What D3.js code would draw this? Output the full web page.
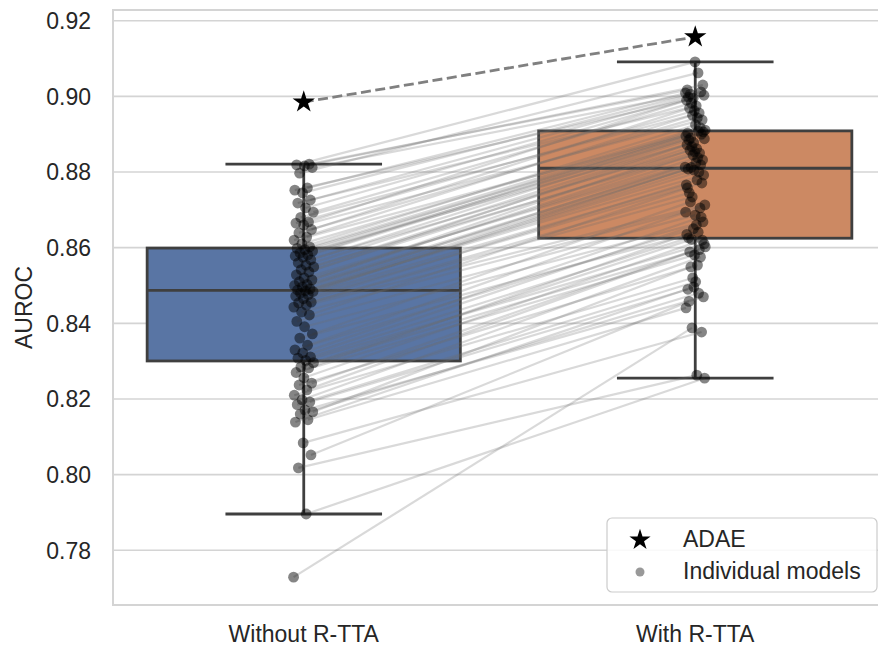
<!DOCTYPE html>
<html>
<head>
<meta charset="utf-8">
<script src="https://cdn.jsdelivr.net/npm/d3@7"></script>
<style>
  body { margin: 0; background: #fff; }
  text { font-family: "Liberation Sans", Arial, sans-serif; fill: #262626; }
</style>
</head>
<body>
<svg id="chart" width="878" height="648"></svg>
<script>
// categories on the x axis
var categories = ["Without R-TTA", "With R-TTA"];

// AUROC of each individual model, same model order in both arrays
var withoutRTTA = [
  0.7729, 0.7896, 0.8018, 0.8052, 0.8084, 0.8139, 0.8145, 0.8160, 0.8166, 0.8171,
  0.8185, 0.8192, 0.8198, 0.8210, 0.8224, 0.8237, 0.8242, 0.8256, 0.8270, 0.8282,
  0.8285, 0.8296, 0.8302, 0.8308, 0.8311, 0.8322, 0.8330, 0.8342, 0.8361, 0.8372,
  0.8391, 0.8405, 0.8422, 0.8430, 0.8443, 0.8448, 0.8454, 0.8456, 0.8465, 0.8472,
  0.8476, 0.8480, 0.8484, 0.8486, 0.8488, 0.8491, 0.8496, 0.8500, 0.8503, 0.8510,
  0.8515, 0.8520, 0.8528, 0.8536, 0.8542, 0.8549, 0.8554, 0.8560, 0.8568, 0.8575,
  0.8578, 0.8581, 0.8586, 0.8591, 0.8595, 0.8598, 0.8602, 0.8610, 0.8620, 0.8628,
  0.8639, 0.8648, 0.8660, 0.8665, 0.8668, 0.8680, 0.8694, 0.8705, 0.8718, 0.8726,
  0.8745, 0.8752, 0.8758, 0.8797, 0.8812, 0.8816, 0.8819, 0.8821
];
var withRTTA = [
  0.8388, 0.8255, 0.8263, 0.8458, 0.8377, 0.8496, 0.8441, 0.8480, 0.8549, 0.8470,
  0.8510, 0.8490, 0.8575, 0.8520, 0.8602, 0.8554, 0.8589, 0.8620, 0.8581, 0.8635,
  0.8595, 0.8622, 0.8610, 0.8660, 0.8626, 0.8681, 0.8650, 0.8694, 0.8641, 0.8721,
  0.8668, 0.8686, 0.8758, 0.8705, 0.8734, 0.8713, 0.8779, 0.8745, 0.8771, 0.8805,
  0.8766, 0.8800, 0.8812, 0.8792, 0.8825, 0.8808, 0.8819, 0.8845, 0.8813, 0.8838,
  0.8858, 0.8832, 0.8853, 0.8872, 0.8850, 0.8867, 0.8888, 0.8862, 0.8885, 0.8900,
  0.8878, 0.8895, 0.8908, 0.8890, 0.8906, 0.8925, 0.8903, 0.8917, 0.8950, 0.8911,
  0.8943, 0.8969, 0.8938, 0.8962, 0.8990, 0.8956, 0.8982, 0.9003, 0.8975, 0.8998,
  0.9012, 0.8995, 0.9009, 0.9062, 0.9006, 0.9030, 0.9091, 0.9017
];

// ensemble (ADAE) result per category
var adae = [0.8985, 0.9157];

var yTicks = [0.78, 0.80, 0.82, 0.84, 0.86, 0.88, 0.90, 0.92];
var legendLabels = ["ADAE", "Individual models"];
var boxColors = ["#5975a4", "#cc8963"];

var width = 878, height = 648;
var plot = {left: 113, right: 885, top: 10, bottom: 605};
var edge = "#3f3f3f", gridColor = "#d4d4d4";

var svg = d3.select("#chart");

var x = d3.scaleBand()
  .domain(categories)
  .range([108, 891])
  .paddingInner(0.2)
  .paddingOuter(0.1);

var y = d3.scaleLinear()
  .domain([0.76554, 0.92283])
  .range([plot.bottom, plot.top]);

function cx(i) { return x(categories[i]) + x.bandwidth() / 2; }

// small fixed spread for the strip points (golden ratio sequence)
function jitter(i) {
  var f = (i * 0.6180339887) % 1;
  return (f - 0.5) * 2 * 0.026 * x.step();
}

function boxStats(arr) {
  var s = arr.slice().sort(d3.ascending);
  var q1 = d3.quantile(s, 0.25), med = d3.quantile(s, 0.5), q3 = d3.quantile(s, 0.75);
  var iqr = q3 - q1;
  var lo = d3.min(s.filter(function(v) { return v >= q1 - 1.5 * iqr; }));
  var hi = d3.max(s.filter(function(v) { return v <= q3 + 1.5 * iqr; }));
  return {q1: q1, med: med, q3: q3, lo: lo, hi: hi};
}

var series = [withoutRTTA, withRTTA];
var stats = series.map(boxStats);

// grid
svg.append("g").selectAll("line")
  .data(yTicks)
  .enter().append("line")
  .attr("x1", plot.left).attr("x2", plot.right)
  .attr("y1", function(d) { return y(d); })
  .attr("y2", function(d) { return y(d); })
  .attr("stroke", gridColor)
  .attr("stroke-width", 1.6);

// spines
var spines = svg.append("g").attr("stroke", gridColor).attr("stroke-width", 2);
spines.append("line").attr("x1", plot.left).attr("x2", plot.left).attr("y1", plot.top - 1).attr("y2", plot.bottom + 1);
spines.append("line").attr("x1", plot.left).attr("x2", plot.right).attr("y1", plot.top).attr("y2", plot.top);
spines.append("line").attr("x1", plot.left).attr("x2", plot.right).attr("y1", plot.bottom).attr("y2", plot.bottom);

// y tick labels
svg.append("g").selectAll("text")
  .data(yTicks)
  .enter().append("text")
  .attr("x", 91)
  .attr("y", function(d) { return y(d); })
  .attr("dy", "0.36em")
  .attr("text-anchor", "end")
  .style("font-size", "23px")
  .text(function(d) { return d3.format(".2f")(d); });

// x tick labels
svg.append("g").selectAll("text")
  .data(categories)
  .enter().append("text")
  .attr("x", function(d, i) { return cx(i); })
  .attr("y", 642)
  .attr("text-anchor", "middle")
  .style("font-size", "23px")
  .text(function(d) { return d; });

// y label
svg.append("text")
  .attr("transform", "translate(32," + ((plot.top + plot.bottom) / 2) + ") rotate(-90)")
  .attr("text-anchor", "middle")
  .style("font-size", "23px")
  .text("AUROC");

// boxes
var boxes = svg.append("g");
stats.forEach(function(s, i) {
  var g = boxes.append("g");
  var c = cx(i), bw = x.bandwidth();
  g.append("line").attr("x1", c).attr("x2", c).attr("y1", y(s.q1)).attr("y2", y(s.lo));
  g.append("line").attr("x1", c).attr("x2", c).attr("y1", y(s.q3)).attr("y2", y(s.hi));
  g.append("line").attr("x1", c - bw / 4).attr("x2", c + bw / 4).attr("y1", y(s.lo)).attr("y2", y(s.lo));
  g.append("line").attr("x1", c - bw / 4).attr("x2", c + bw / 4).attr("y1", y(s.hi)).attr("y2", y(s.hi));
  g.append("rect")
    .attr("x", x(categories[i])).attr("width", bw)
    .attr("y", y(s.q3)).attr("height", y(s.q1) - y(s.q3))
    .attr("fill", boxColors[i]);
  g.append("line").attr("x1", x(categories[i])).attr("x2", x(categories[i]) + bw)
    .attr("y1", y(s.med)).attr("y2", y(s.med));
  g.selectAll("line").attr("stroke", edge).attr("stroke-width", 2.8);
  g.select("rect").attr("stroke", edge).attr("stroke-width", 2.8);
});

// paired lines
svg.append("g").selectAll("line")
  .data(withoutRTTA)
  .enter().append("line")
  .attr("x1", function(d, i) { return cx(0) + jitter(i); })
  .attr("y1", function(d) { return y(d); })
  .attr("x2", function(d, i) { return cx(1) + jitter(i + 41); })
  .attr("y2", function(d, i) { return y(withRTTA[i]); })
  .attr("stroke", "#6e6e6e")
  .attr("stroke-opacity", 0.26)
  .attr("stroke-width", 2.2);

// individual model points
series.forEach(function(arr, k) {
  svg.append("g").selectAll("circle")
    .data(arr)
    .enter().append("circle")
    .attr("cx", function(d, i) { return cx(k) + jitter(i + 41 * k); })
    .attr("cy", function(d) { return y(d); })
    .attr("r", 5.4)
    .attr("fill", "#000")
    .attr("fill-opacity", 0.48);
});

// ADAE stars and dashed link
svg.append("line")
  .attr("x1", cx(0)).attr("y1", y(adae[0]))
  .attr("x2", cx(1)).attr("y2", y(adae[1]))
  .attr("stroke", "#808080")
  .attr("stroke-width", 2.8)
  .attr("stroke-dasharray", "10,4.5");

var star = d3.symbol().type(d3.symbolStar).size(155);
svg.append("g").selectAll("path")
  .data(adae)
  .enter().append("path")
  .attr("d", star)
  .attr("transform", function(d, i) { return "translate(" + cx(i) + "," + y(d) + ")"; })
  .attr("fill", "#000");

// legend
var legend = svg.append("g").attr("transform", "translate(607,518)");
legend.append("rect")
  .attr("width", 270).attr("height", 74).attr("rx", 5)
  .attr("fill", "#fff").attr("fill-opacity", 0.85)
  .attr("stroke", "#cccccc").attr("stroke-width", 1.2);
legend.append("path")
  .attr("d", d3.symbol().type(d3.symbolStar).size(140))
  .attr("transform", "translate(33,22)")
  .attr("fill", "#000");
legend.append("circle")
  .attr("cx", 33).attr("cy", 54).attr("r", 4.5)
  .attr("fill", "#000").attr("fill-opacity", 0.4);
legend.selectAll("text")
  .data(legendLabels)
  .enter().append("text")
  .attr("x", 76)
  .attr("y", function(d, i) { return 21 + i * 32; })
  .attr("dy", "0.36em")
  .style("font-size", "23px")
  .text(function(d) { return d; });
</script>
</body>
</html>
